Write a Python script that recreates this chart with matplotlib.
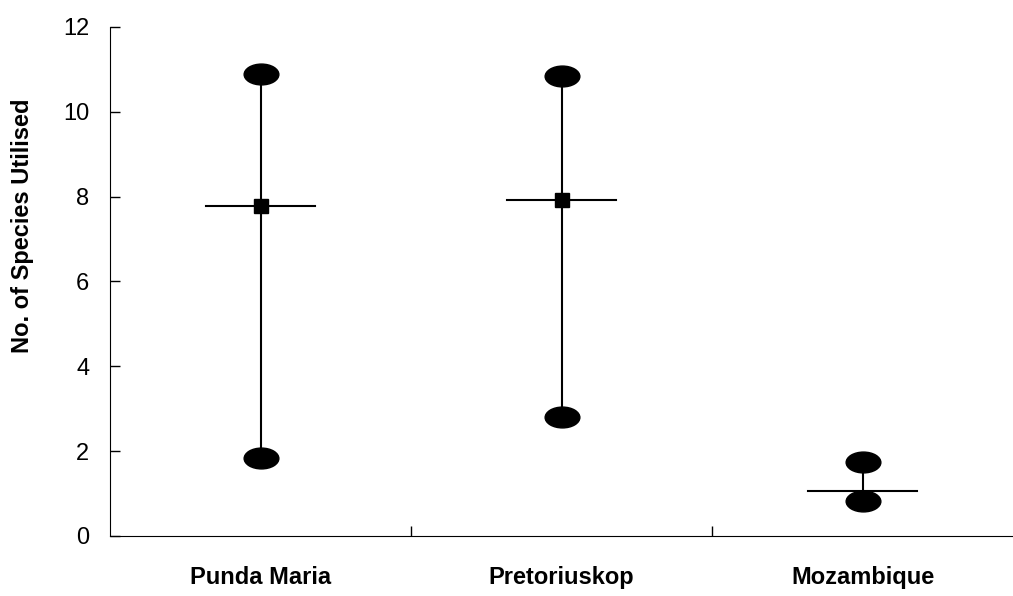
import matplotlib.pyplot as plt
import numpy as np
from matplotlib.path import Path
from matplotlib.markers import MarkerStyle

plt.rcParams['font.family'] = ['Liberation Sans', 'DejaVu Sans']

sites = ["Punda Maria", "Pretoriuskop", "Mozambique"]
max_species = [10.9, 10.85, 1.75]
mean_species = [7.78, 7.92, 1.05]
min_species = [1.85, 2.8, 0.82]

# flattened ellipse marker for the range ends
circ = Path.unit_circle()
ell = Path(circ.vertices * np.array([1.0, 0.6]), circ.codes)
ell_marker = MarkerStyle(ell)

x = np.arange(1, len(sites) + 1)

fig = plt.figure(figsize=(10.13, 5.96), dpi=100)
ax = fig.add_axes([0.1086, 0.1007, 0.8914, 0.854])

for i in range(len(sites)):
    ax.plot([x[i], x[i]], [min_species[i], max_species[i]], color="black", lw=1.5, zorder=2)
    ax.plot([x[i] - 0.18, x[i] + 0.18], [mean_species[i], mean_species[i]], color="black", lw=1.5, zorder=2)

ax.plot(x, max_species, ls="none", marker=ell_marker, ms=25, color="black", zorder=3)
ax.plot(x, min_species, ls="none", marker=ell_marker, ms=25, color="black", zorder=3)
ax.plot(x[:2], mean_species[:2], ls="none", marker="s", ms=10, color="black", zorder=4)

ax.set_xlim(0.5, 3.5)
ax.set_ylim(0, 12)
ax.set_yticks(range(0, 13, 2))
ax.set_xticks([1.5, 2.5])
ax.set_xticklabels([])
ax.tick_params(axis="x", direction="in", length=7, width=1)
ax.tick_params(axis="y", direction="in", length=7, width=1, labelsize=17, pad=15)
for s, xi in zip(sites, x):
    ax.text(xi, -0.98, s, ha="center", va="center", fontsize=17, fontweight="bold")

ax.spines["top"].set_visible(False)
ax.spines["right"].set_visible(False)
ax.set_ylabel("No. of Species Utilised", fontsize=17, fontweight="bold")
ax.yaxis.set_label_coords(-0.084, 0.61)

fig.savefig("out.png", dpi=100)
